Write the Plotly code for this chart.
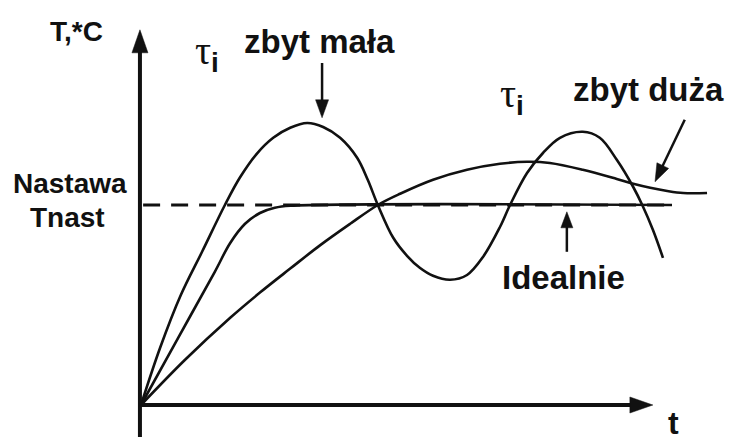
import math

import plotly.graph_objects as go

# step responses: t in arbitrary units, setpoint T = 50
t_small = [0, 3.6, 7.5, 11.5, 15.8, 18.6, 21.8, 24.9, 28.1, 31.3, 34.3, 37.5,
           40.7, 42.7, 44.6, 47.5, 50.1, 52.5, 55.0, 58.2, 61.4, 64.4, 67.6,
           69.5, 72.7, 75.7, 78.9, 83.2, 86.4, 89.6, 92.7, 94.4, 96.4, 98.3]
T_small = [0, 14.3, 27.5, 38.3, 50, 56.8, 62.8, 66.8, 69.3, 70.5, 69.5, 66.8,
           61.8, 56.3, 50, 41.8, 37.3, 34.3, 32.3, 31.3, 32.5, 37, 44.5,
           50, 58, 63, 66.8, 68.3, 66.8, 61.3, 54.5, 50, 43.8, 36.8]

t_ideal = [0, 7.0, 13.9, 16.8, 19.6, 22.4, 25.2, 28.1, 100]
T_ideal = [0, 16.8, 33.3, 40.5, 45.3, 48.0, 49.3, 49.8, 50]

t_large = [0, 8.3, 16.8, 22.4, 28.1, 33.7, 39.4, 44.6, 48.8, 55.0, 61.4,
           67.6, 72.7, 77.0, 83.2, 89.6, 92.7, 95.9, 99.1, 102.1, 106.6]
T_large = [0, 11.3, 21.8, 28.1, 34.1, 39.9, 45.3, 50, 52.8, 56.3, 58.8,
           60.3, 60.8, 60.5, 58.8, 56.5, 55.3, 54.3, 53.5, 53, 53]

T_SET = 50
t_set = [0.4, 100]

W, H = 729, 441
X0, Y0 = 141, 405      # where the origin sits on the page
XS, YS = 5.31, 4.0     # pixels per unit on each axis
INK = "#111111"
SANS = "Liberation Sans, Arial, sans-serif"
SERIF = "Liberation Serif, Times New Roman, serif"


def to_px(t, T):
    return X0 + t * XS, Y0 - T * YS


def to_data(px, py):
    return (px - X0) / XS, (Y0 - py) / YS


def arrow(tail, tip, width, head_len, head_w):
    """Shaft and filled head of an arrow, as two shapes in data coordinates."""
    x0, y0 = to_px(*tail)
    x1, y1 = to_px(*tip)
    d = math.hypot(x1 - x0, y1 - y0)
    ux, uy = (x1 - x0) / d, (y1 - y0) / d
    bx, by = x1 - ux * head_len, y1 - uy * head_len
    nx, ny = -uy * head_w / 2, ux * head_w / 2
    pts = [to_data(x1, y1), to_data(bx + nx, by + ny), to_data(bx - nx, by - ny)]
    path = "M{:.3f},{:.3f} L{:.3f},{:.3f} L{:.3f},{:.3f} Z".format(
        *[v for p in pts for v in p])
    sx, sy = to_data(bx + ux * 3, by + uy * 3)
    return [
        dict(type="line", x0=tail[0], y0=tail[1], x1=sx, y1=sy,
             line=dict(color=INK, width=width)),
        dict(type="path", path=path, fillcolor=INK,
             line=dict(color=INK, width=0.5)),
    ]


def label(text, x, y, size, family=SANS, bold=True):
    return dict(text="<b>%s</b>" % text if bold else text, x=x, y=y,
                xref="x", yref="y", showarrow=False,
                xanchor="center", yanchor="middle",
                font=dict(family=family, size=size, color=INK))


fig = go.Figure()

fig.add_trace(go.Scatter(x=t_set, y=[T_SET, T_SET], mode="lines",
                         line=dict(color=INK, width=3, dash="17px,11px")))
for tx, ty in ((t_small, T_small), (t_ideal, T_ideal), (t_large, T_large)):
    fig.add_trace(go.Scatter(x=tx, y=ty, mode="lines",
                             line=dict(color=INK, width=2.6,
                                       shape="spline", smoothing=1.0)))

shapes = []
# axes
shapes += arrow((-0.2, -8), (-0.2, 93.8), 4, 23, 16)
shapes += arrow((-0.2, 0), (96.4, 0), 4, 23, 16)
# pointers
shapes += arrow((34.1, 85.5), (34.1, 71.8), 2.5, 18, 13)
shapes += arrow((102.4, 71.3), (96.8, 55.8), 2.5, 18, 13)
shapes += arrow((80.2, 38.3), (80.2, 48.3), 2.5, 16, 12)

tau = "τ<sub><span style='font-family:Liberation Sans'><b>i</b></span></sub>"

annotations = [
    label("T,*C", -12.1, 93.5, 28),
    label("Nastawa", -13.4, 55.5, 28),
    label("Tnast", -13.8, 46.8, 28),
    label("zbyt mała", 33.7, 91.0, 33),
    label("zbyt duża", 95.5, 79.0, 33),
    label("Idealnie", 79.5, 31.8, 33),
    label(tau, 12.4, 88.0, 40, family=SERIF, bold=False),
    label(tau, 69.9, 77.3, 40, family=SERIF, bold=False),
    label("t", 100.2, -4.6, 32),
]

x_lo, _ = to_data(0, 0)
x_hi, _ = to_data(W, 0)
_, y_lo = to_data(0, H)
_, y_hi = to_data(0, 0)

fig.update_layout(
    width=W, height=H,
    margin=dict(l=0, r=0, t=0, b=0),
    paper_bgcolor="white", plot_bgcolor="white",
    showlegend=False,
    xaxis=dict(range=[x_lo, x_hi], visible=False, fixedrange=True),
    yaxis=dict(range=[y_lo, y_hi], visible=False, fixedrange=True),
    shapes=shapes,
    annotations=annotations,
)

fig.write_html("out.html", config=dict(displayModeBar=False),
               post_script="document.body.style.margin='0';")
